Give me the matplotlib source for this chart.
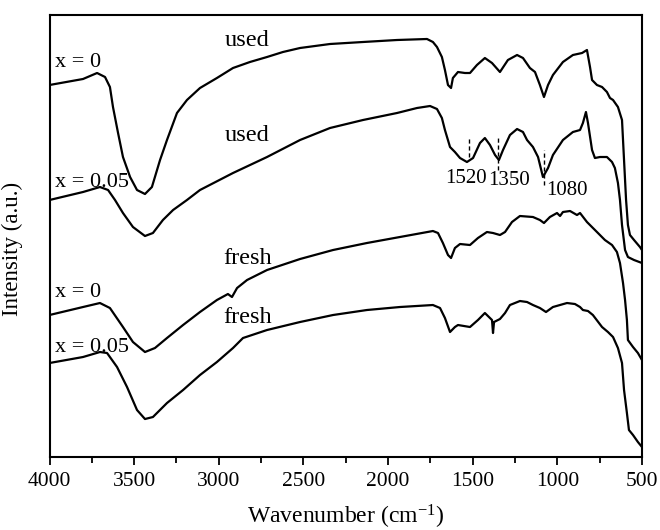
import numpy as np
import matplotlib
matplotlib.use('Agg')
import matplotlib.pyplot as plt

plt.rcParams['font.family'] = ['Liberation Serif', 'DejaVu Serif']
plt.rcParams['mathtext.default'] = 'regular'

# used, x = 0
wn_used_0 = [4000, 3802, 3719, 3672, 3643, 3625, 3595, 3566, 3524, 3483, 3436, 3395, 3347, 3306,
             3247, 3188, 3111, 3011, 2916, 2816, 2715, 2621, 2520, 2343, 2148, 1947, 1770, 1735,
             1711, 1682, 1664, 1646, 1628, 1617, 1587, 1546, 1516, 1475, 1428, 1386, 1339, 1292,
             1238, 1203, 1162, 1132, 1103, 1079, 1055, 1026, 967, 908, 854, 825, 807, 795, 766,
             736, 707, 689, 671, 642, 618, 606, 594, 583, 571, 547, 512, 500]
int_used_0 = [372, 378, 384, 380, 370, 350, 324, 300, 280, 267, 263, 270, 297, 317, 344, 357, 369,
              379, 389, 395, 400, 405, 409, 413, 415, 417, 418, 415, 410, 400, 387, 372, 369, 379,
              385, 384, 384, 392, 399, 394, 385, 397, 402, 399, 389, 385, 372, 360, 372, 382, 395,
              402, 404, 407, 390, 377, 372, 370, 365, 359, 357, 350, 337, 297, 257, 232, 222, 217,
              210, 207]

# used, x = 0.05
wn_used_005 = [4000, 3802, 3702, 3654, 3613, 3566, 3507, 3436, 3389, 3330, 3270, 3188, 3111, 2916,
               2715, 2520, 2343, 2148, 1947, 1829, 1752, 1711, 1682, 1664, 1634, 1605, 1575, 1534,
               1498, 1457, 1428, 1398, 1368, 1345, 1321, 1280, 1238, 1203, 1179, 1144, 1114, 1085,
               1055, 1026, 967, 908, 866, 849, 831, 819, 795, 778, 748, 707, 677, 660, 642, 630,
               618, 600, 583, 547, 500]
int_used_005 = [257, 265, 270, 267, 257, 244, 230, 221, 224, 237, 247, 257, 267, 284, 300, 317, 329,
                337, 344, 349, 351, 348, 339, 327, 310, 305, 299, 295, 299, 314, 319, 312, 302, 297,
                307, 322, 328, 325, 317, 310, 300, 280, 289, 302, 317, 325, 327, 334, 345, 334, 307,
                299, 300, 300, 295, 289, 274, 257, 232, 207, 200, 197, 194]

# fresh, x = 0
wn_fresh_0 = [4000, 3802, 3702, 3643, 3566, 3507, 3436, 3377, 3306, 3211, 3111, 3011, 2946, 2922,
              2892, 2833, 2715, 2520, 2325, 2125, 1930, 1735, 1705, 1676, 1646, 1628, 1605, 1575,
              1516, 1469, 1416, 1380, 1339, 1309, 1268, 1221, 1144, 1103, 1079, 1044, 1002, 984,
              967, 925, 884, 866, 825, 766, 719, 677, 648, 630, 612, 600, 589, 583, 553, 524, 500]
int_fresh_0 = [142, 150, 154, 149, 130, 115, 105, 109, 119, 132, 145, 157, 163, 160, 169, 177, 187,
               198, 207, 214, 220, 226, 224, 214, 202, 199, 209, 213, 212, 219, 225, 224, 222, 225,
               235, 241, 240, 237, 234, 240, 244, 241, 245, 246, 242, 244, 235, 225, 217, 212, 205,
               194, 174, 157, 137, 117, 110, 104, 97]

# fresh, x = 0.05
wn_fresh_005 = [4000, 3802, 3702, 3660, 3601, 3542, 3483, 3436, 3389, 3306, 3211, 3111, 3011, 2916,
                2857, 2715, 2520, 2325, 2125, 1930, 1735, 1693, 1664, 1634, 1605, 1587, 1516, 1469,
                1428, 1398, 1386, 1380, 1374, 1339, 1309, 1280, 1221, 1179, 1144, 1103, 1067, 1026,
                943, 896, 866, 849, 819, 790, 736, 701, 671, 642, 618, 606, 589, 577, 553, 524, 500]
int_fresh_005 = [94, 100, 105, 104, 90, 70, 47, 38, 40, 54, 67, 82, 95, 109, 119, 127, 135, 142, 147,
                 150, 152, 149, 139, 125, 130, 132, 130, 137, 144, 139, 137, 124, 135, 138, 144, 152,
                 156, 155, 152, 149, 145, 150, 154, 153, 150, 147, 146, 142, 130, 125, 120, 109, 94,
                 67, 44, 27, 22, 15, 10]

# marked bands on the used x = 0.05 curve
band_pos = [1520, 1350, 1080]
band_lo = [300, 287, 272]
band_hi = [320, 320, 307]
band_labels = ['1520', '1350', '1080']
band_label_x = [1540, 1286, 943]
band_label_y = [279, 277, 267]

fig = plt.figure(figsize=(6.6, 5.3), dpi=100)
ax = fig.add_axes([0.075, 0.1377, 0.8977, 0.834])

for wn, inten in [(wn_used_0, int_used_0), (wn_used_005, int_used_005),
                  (wn_fresh_0, int_fresh_0), (wn_fresh_005, int_fresh_005)]:
    ax.plot(wn, inten, color='black', lw=1.6, solid_joinstyle='round')

for p, lo, hi in zip(band_pos, band_lo, band_hi):
    ax.plot([p, p], [lo, hi], color='black', lw=1, linestyle=(0, (3, 2)))
for t, x, y in zip(band_labels, band_label_x, band_label_y):
    ax.text(x, y, t, fontsize=15, ha='center', va='center')

# curve labels
ax.text(2833, 417, 'used', fontsize=17.5, ha='center', va='center')
ax.text(2833, 322, 'used', fontsize=17.5, ha='center', va='center')
ax.text(2828, 199, 'fresh', fontsize=17.5, ha='center', va='center')
ax.text(2828, 140, 'fresh', fontsize=17.5, ha='center', va='center')
ax.text(3968, 395, 'x = 0', fontsize=16, ha='left', va='center')
ax.text(3968, 275, 'x = 0.05', fontsize=16, ha='left', va='center')
ax.text(3968, 165, 'x = 0', fontsize=16, ha='left', va='center')
ax.text(3968, 110, 'x = 0.05', fontsize=16, ha='left', va='center')

ax.set_xlim(4000, 500)
ax.set_ylim(0, 442)
ax.set_xticks([4000, 3500, 3000, 2500, 2000, 1500, 1000, 500])
ax.set_xticks(np.arange(3750, 500, -500), minor=True)
ax.set_yticks([])
ax.tick_params(axis='x', which='major', direction='out', length=6, width=1.3, labelsize=15.5, pad=5)
ax.tick_params(axis='x', which='minor', direction='out', length=4, width=1.3)
for s in ax.spines.values():
    s.set_linewidth(1.5)

ax.set_xlabel('Wavenumber (cm$^{-1}$)', fontsize=17, labelpad=8)
ax.set_ylabel('Intensity (a.u.)', fontsize=16.5)
ax.yaxis.set_label_coords(-0.045, 0.47)

plt.savefig('out.png', dpi=100)
